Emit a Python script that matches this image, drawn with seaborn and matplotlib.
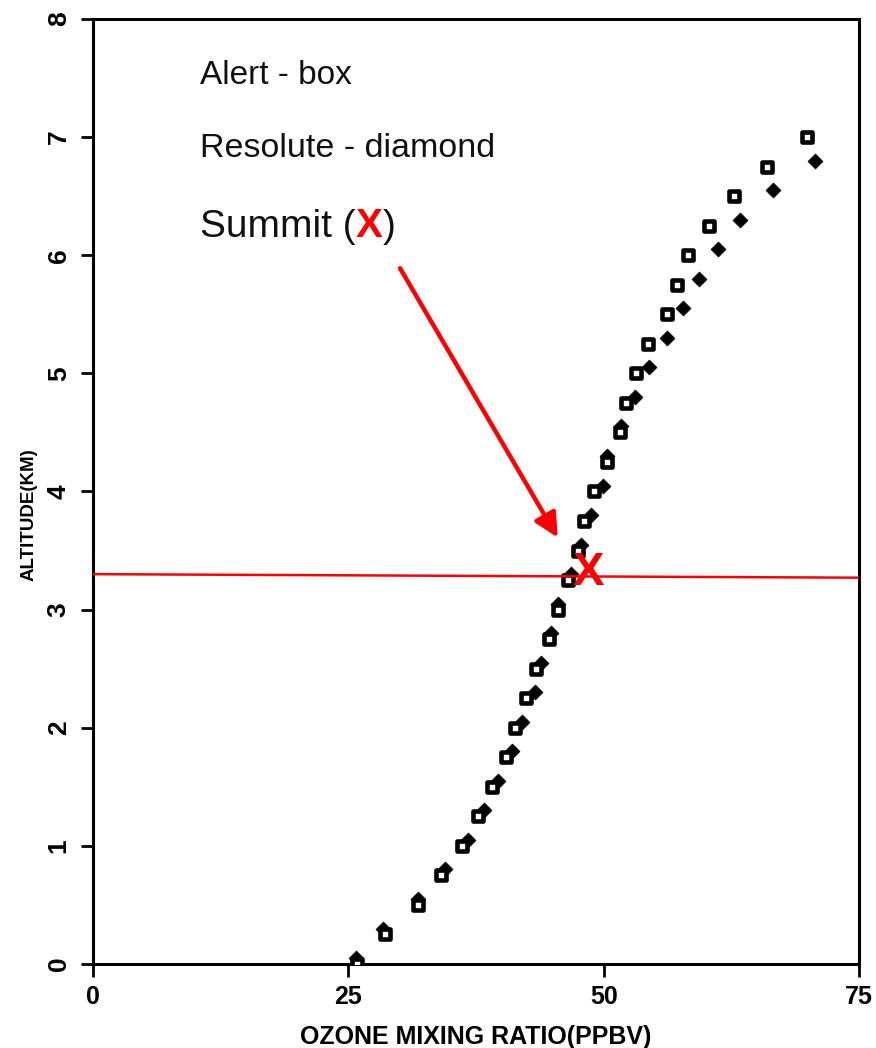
import matplotlib
matplotlib.use("Agg")
import matplotlib.pyplot as plt
import seaborn as sns
import pandas as pd

# ---- data ----
alert_alt = [0.0, 0.25, 0.5, 0.75, 1.0, 1.25, 1.5, 1.75, 2.0, 2.25, 2.5, 2.75, 3.0, 3.25,
             3.5, 3.75, 4.0, 4.25, 4.5, 4.75, 5.0, 5.25, 5.5, 5.75, 6.0, 6.25, 6.5, 6.75, 7.0]
alert_o3 = [25.85, 28.6, 31.85, 34.1, 36.1, 37.7, 39.1, 40.4, 41.3, 42.4, 43.4, 44.6, 45.5, 46.5,
            47.5, 48.1, 49.1, 50.3, 51.6, 52.2, 53.2, 54.3, 56.2, 57.2, 58.3, 60.3, 62.8, 66.0, 69.9]

resolute_alt = [0.05, 0.30, 0.55, 0.80, 1.05, 1.30, 1.55, 1.80, 2.05, 2.30, 2.55, 2.80, 3.05, 3.30,
                3.55, 3.80, 4.05, 4.30, 4.55, 4.80, 5.05, 5.30, 5.55, 5.80, 6.05, 6.30, 6.55, 6.80]
resolute_o3 = [25.7, 28.4, 31.8, 34.5, 36.7, 38.3, 39.7, 41.0, 42.0, 43.3, 43.9, 44.8, 45.5, 46.8,
               47.8, 48.8, 49.9, 50.3, 51.7, 53.1, 54.4, 56.2, 57.8, 59.3, 61.2, 63.3, 66.6, 70.7]

summit_o3 = 48.5
summit_alt = 3.31
summit_line_x = [0, 75]
summit_line_alt = [3.30, 3.27]
arrow_start = (30.06, 5.89)
arrow_end = (45.5, 3.61)

x_ticks = [0, 25, 50, 75]
y_ticks = [0, 1, 2, 3, 4, 5, 6, 7, 8]
x_label = "OZONE MIXING RATIO(PPBV)"
y_label = "ALTITUDE(KM)"
notes = ["Alert - box", "Resolute - diamond"]

# ---- style ----
sns.set_theme(style="ticks")
plt.rcParams["font.family"] = ["Liberation Sans", "DejaVu Sans"]
plt.rcParams["text.color"] = "black"
plt.rcParams["axes.labelcolor"] = "black"
plt.rcParams["xtick.color"] = "black"
plt.rcParams["ytick.color"] = "black"

fig = plt.figure(figsize=(8.76, 10.48), dpi=100)
ax = fig.add_axes([0.1062, 0.0802, 0.9806 - 0.1062, 0.9819 - 0.0802])

alert_df = pd.DataFrame({"o3": alert_o3, "alt": alert_alt})
res_df = pd.DataFrame({"o3": resolute_o3, "alt": resolute_alt})

sns.scatterplot(data=res_df, x="o3", y="alt", marker="D", s=58, color="black",
                edgecolor="black", linewidth=0.5, ax=ax, zorder=3)
sns.scatterplot(data=alert_df, x="o3", y="alt", marker="s", s=50, color="white",
                edgecolor="black", linewidth=3.3, ax=ax, zorder=4)

ax.plot(summit_line_x, summit_line_alt, color="#ff0000", lw=1.8, zorder=5)
ax.text(summit_o3, summit_alt, "X", color="#ff0000", fontsize=34, fontweight="bold",
        ha="center", va="center", zorder=6)

ax.annotate("", xy=arrow_end, xytext=arrow_start,
            arrowprops=dict(arrowstyle="-|>", color="#ff0000", lw=3.2,
                            mutation_scale=36, shrinkA=0, shrinkB=0), zorder=6)

ax.set_xlim(0, 75)
ax.set_ylim(0, 8)
ax.set_xticks(x_ticks)
ax.set_yticks(y_ticks)
ax.set_xticklabels([str(t) for t in x_ticks], fontsize=18, fontweight="bold")
ax.set_yticklabels([str(t) for t in y_ticks], fontsize=19, fontweight="bold",
                   rotation=90, va="center")
ax.tick_params(axis="both", direction="out", length=9, width=2, color="black")
ax.tick_params(axis="x", pad=6)
ax.tick_params(axis="y", pad=7)
for sp in ax.spines.values():
    sp.set_visible(True)
    sp.set_linewidth(2.2)
    sp.set_color("black")

ax.set_xlabel(x_label, fontsize=18, fontweight="bold", labelpad=12)
ax.set_ylabel(y_label, fontsize=13.5, fontweight="bold")
ax.yaxis.set_label_coords(-0.072, 0.475)

# annotations
ax.text(10.48, 7.45, notes[0], fontsize=24, va="baseline", ha="left", color="#111111")
ax.text(10.48, 6.83, notes[1], fontsize=24.5, va="baseline", ha="left", color="#111111")

t1 = ax.text(10.48, 6.15, "Summit (", fontsize=28, va="baseline", ha="left", color="#111111")
fig.canvas.draw()
r = fig.canvas.get_renderer()
w1 = t1.get_window_extent(r).width * 72 / fig.dpi
t2 = ax.annotate("X", xy=(10.48, 6.15), xytext=(w1, 0), textcoords="offset points",
                 fontsize=29, fontweight="bold", color="#ff0000", va="baseline", ha="left")
fig.canvas.draw()
w2 = t2.get_window_extent(r).width * 72 / fig.dpi
ax.annotate(")", xy=(10.48, 6.15), xytext=(w1 + w2, 0), textcoords="offset points",
            fontsize=28, color="#111111", va="baseline", ha="left")

fig.savefig("out.png", dpi=100)
